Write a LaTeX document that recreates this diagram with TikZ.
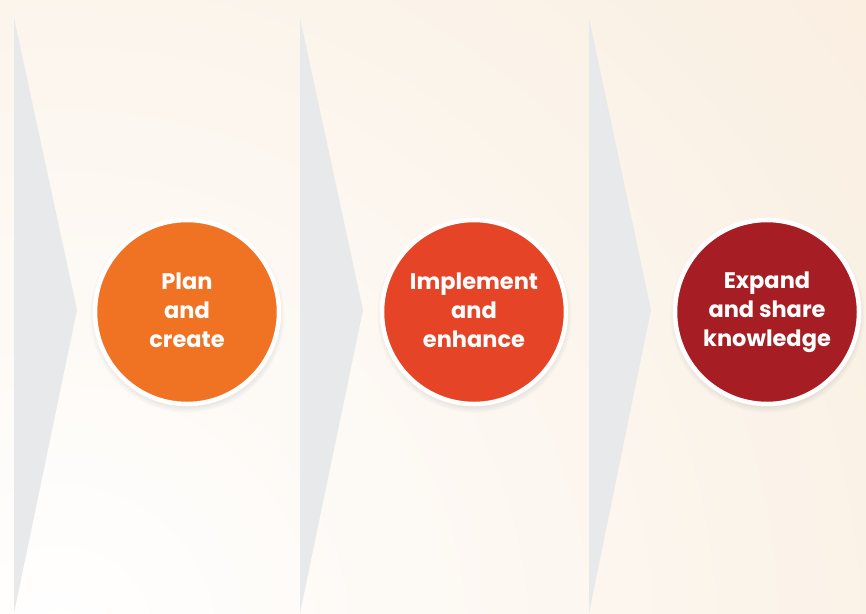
\documentclass[tikz,border=0pt]{standalone}
\usepackage{fontspec}
\setmainfont{Poppins}
\usetikzlibrary{shadows}
\definecolor{chevgray}{HTML}{E8E9EB}
\definecolor{bgpeach}{HTML}{F7E7D3}
\definecolor{planorange}{HTML}{F07324}
\definecolor{implred}{HTML}{E64426}
\definecolor{expandred}{HTML}{A61E23}
\newcommand{\stagestrut}{\rule[-5.5pt]{0pt}{23pt}}

\begin{document}
\begin{tikzpicture}[x=1pt, y=-1pt,
    chevron/.style={fill=chevgray},
    stage/.style={circle, minimum size=184pt, inner sep=0pt, draw=white,
      line width=4.5pt, text=white, align=center,
      font=\fontsize{22.5}{29}\selectfont\bfseries,
      circular drop shadow={shadow xshift=0pt, shadow yshift=-3pt,
        shadow scale=1.06, opacity=0.35}}]
    \useasboundingbox (0,0) rectangle (866,613);
    % background, white at the lower left
    \begin{scope}
      \clip (0,0) rectangle (866,613);
      \fill [inner color=white, outer color=bgpeach] (60,640) circle (1500);
    \end{scope}
    % chevrons
    \fill [chevron] (14,18) -- (77,310) -- (14,613) -- cycle;
    \fill [chevron] (300,18) -- (363,310) -- (300,613) -- cycle;
    \fill [chevron] (589,18) -- (651,310) -- (589,613) -- cycle;
    % stages
    \node [stage, fill=planorange] (plan) at (187,312) {\stagestrut Plan\\and\\create\stagestrut};
    \node [stage, fill=implred] (implement) at (474,312) {\stagestrut Implement\\and\\enhance\stagestrut};
    \node [stage, fill=expandred] (expand) at (767,312) {\stagestrut Expand\\and share\\knowledge\stagestrut};
\end{tikzpicture}
\end{document}
